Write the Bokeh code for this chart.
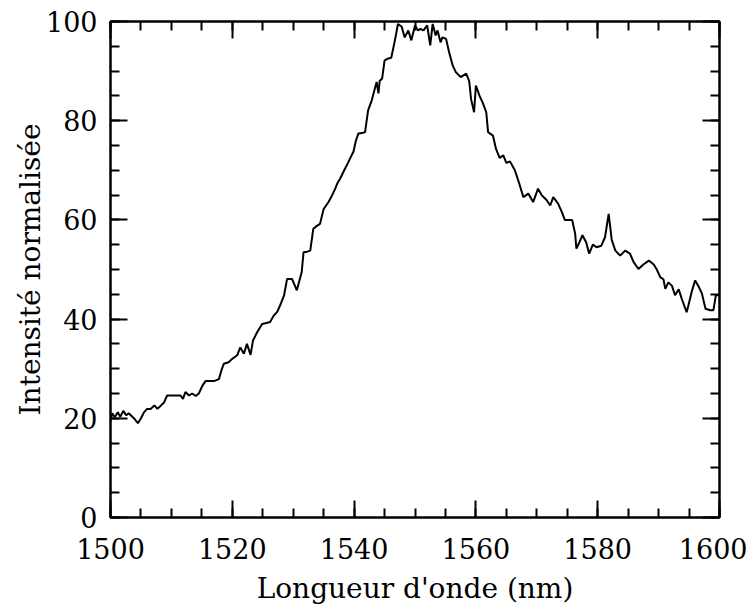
from bokeh.plotting import figure
from bokeh.models import Range1d, LinearAxis, SingleIntervalTicker, CustomJSTickFormatter
from bokeh.embed import file_html
from bokeh.resources import INLINE

wavelength_nm = [
    1500.0, 1500.3, 1500.7, 1501.2, 1501.6, 1502.1, 1502.6, 1503.0, 1503.5, 1504.0,
    1504.5, 1505.0, 1505.5, 1506.0, 1506.6, 1507.2, 1507.7, 1508.3, 1508.8, 1509.3,
    1510.0, 1510.8, 1511.5, 1511.9, 1512.3, 1512.9, 1513.4, 1514.0, 1514.5, 1515.1,
    1515.6, 1516.3, 1517.0, 1517.8, 1518.2, 1518.6, 1519.4, 1520.0, 1520.8, 1521.3,
    1521.9, 1522.4, 1523.0, 1523.4, 1524.1, 1524.9, 1525.6, 1526.2, 1526.8, 1527.4,
    1528.0, 1528.5, 1529.0, 1529.8, 1530.6, 1531.4, 1531.7, 1532.3, 1532.8, 1533.3,
    1533.9, 1534.4, 1535.0, 1535.8, 1536.4, 1536.9, 1537.3, 1537.7, 1538.1, 1538.5,
    1539.0, 1539.3, 1539.9, 1540.3, 1540.7, 1541.3, 1541.8, 1542.3, 1542.9, 1543.3,
    1543.7, 1544.0, 1544.2, 1544.6, 1545.0, 1545.5, 1546.1, 1546.7, 1547.2, 1547.8,
    1548.3, 1548.9, 1549.4, 1550.0, 1550.5, 1550.9, 1551.4, 1552.0, 1552.5, 1552.9,
    1553.4, 1553.7, 1554.2, 1554.5, 1555.1, 1555.6, 1556.2, 1556.7, 1557.5, 1558.4,
    1558.9, 1559.2, 1559.7, 1560.0, 1560.6, 1561.1, 1561.7, 1562.0, 1562.8, 1563.3,
    1563.9, 1564.5, 1565.0, 1565.6, 1566.4, 1567.2, 1567.8, 1568.6, 1569.4, 1570.2,
    1570.8, 1571.6, 1572.2, 1572.7, 1573.5, 1574.1, 1574.6, 1575.8, 1576.3, 1576.5,
    1577.0, 1577.5, 1578.1, 1578.6, 1579.2, 1579.8, 1580.6, 1581.2, 1581.8, 1582.3,
    1582.9, 1583.7, 1584.5, 1585.3, 1585.9, 1586.7, 1587.5, 1588.4, 1589.2, 1589.7,
    1590.3, 1590.8, 1591.1, 1591.6, 1592.2, 1592.7, 1593.3, 1593.8, 1594.6, 1594.9,
    1595.5, 1596.0, 1596.6, 1597.1, 1597.7, 1598.5, 1599.0, 1599.4, 1600.0,
]
intensity = [
    19.5, 21.0, 20.2, 21.2, 20.3, 21.5, 20.6, 21.0, 20.4, 19.8,
    19.0, 20.0, 21.2, 21.9, 21.9, 22.6, 21.9, 22.6, 23.2, 24.6,
    24.6, 24.6, 24.6, 23.9, 25.3, 24.6, 25.0, 24.5, 25.0, 26.6,
    27.5, 27.5, 27.5, 27.9, 29.6, 31.0, 31.3, 32.0, 32.7, 34.3,
    33.0, 35.0, 32.8, 35.7, 37.4, 39.0, 39.2, 39.4, 40.7, 41.5,
    43.2, 44.8, 48.1, 48.1, 45.8, 49.5, 53.5, 53.6, 53.8, 58.2,
    58.8, 59.2, 62.2, 63.6, 65.0, 66.3, 67.5, 68.3, 69.3, 70.3,
    71.5, 72.3, 73.8, 76.0, 77.4, 77.5, 77.7, 82.1, 84.1, 86.0,
    87.8, 85.5, 88.0, 88.5, 92.1, 92.5, 92.7, 96.2, 99.5, 99.0,
    96.8, 98.2, 96.2, 99.2, 98.2, 98.5, 98.2, 99.2, 95.2, 99.5,
    97.2, 98.2, 95.8, 96.8, 96.5, 93.8, 91.1, 89.8, 88.8, 89.5,
    88.0, 84.4, 81.7, 87.1, 85.0, 83.7, 81.7, 77.7, 77.0, 74.3,
    72.5, 73.0, 71.5, 71.8, 70.0, 67.0, 64.6, 65.3, 63.6, 66.3,
    65.0, 64.0, 62.9, 64.6, 63.3, 61.6, 60.0, 60.0, 57.2, 54.2,
    55.5, 56.9, 55.5, 53.2, 55.0, 54.5, 54.8, 56.5, 61.2, 56.0,
    53.8, 52.8, 53.8, 53.2, 51.5, 50.1, 51.0, 51.8, 51.0, 50.0,
    48.4, 48.0, 46.1, 47.4, 46.7, 44.8, 46.0, 44.1, 41.4, 42.8,
    45.8, 47.8, 46.5, 45.2, 42.1, 41.8, 41.8, 44.8, 44.8,
]

x_label = "Longueur d'onde (nm)"
y_label = "Intensité normalisée"

FONT = "DejaVu Serif"

p = figure(
    frame_width=609, frame_height=496,
    min_border_left=110, min_border_right=28, min_border_top=21, min_border_bottom=84,
    x_range=Range1d(1500, 1600), y_range=Range1d(0, 100),
    output_backend="svg", toolbar_location=None,
    background_fill_color="white", border_fill_color="white",
)
p.grid.visible = False
p.outline_line_color = "black"
p.outline_line_width = 2

p.line(wavelength_nm, intensity, line_color="black", line_width=2)

xt = SingleIntervalTicker(interval=20, num_minor_ticks=4)
yt = SingleIntervalTicker(interval=20, num_minor_ticks=4)


def style(ax, labels=True):
    ax.axis_line_color = "black"
    ax.axis_line_width = 2
    ax.major_tick_line_color = "black"
    ax.major_tick_line_width = 2
    ax.minor_tick_line_color = "black"
    ax.minor_tick_line_width = 2
    ax.major_tick_in = 17
    ax.major_tick_out = 0
    ax.minor_tick_in = 9
    ax.minor_tick_out = 0
    if labels:
        ax.major_label_text_font = FONT
        ax.major_label_text_font_size = "27px"
        ax.major_label_text_color = "black"
        ax.axis_label_text_font = FONT
        ax.axis_label_text_font_size = "28px"
        ax.axis_label_text_font_style = "normal"
        ax.axis_label_text_color = "black"
    else:
        ax.major_label_text_font_size = "0px"
        ax.formatter = CustomJSTickFormatter(code="return ''")


xa = p.xaxis[0]
xa.ticker = xt
xa.axis_label = x_label
style(xa)
xa.major_label_standoff = 20
xa.axis_label_standoff = 10

ya = p.yaxis[0]
ya.ticker = yt
ya.axis_label = y_label
style(ya)
ya.major_label_standoff = 13
ya.axis_label_standoff = -4

top = LinearAxis(ticker=SingleIntervalTicker(interval=20, num_minor_ticks=4))
style(top, labels=False)
p.add_layout(top, "above")

right = LinearAxis(ticker=SingleIntervalTicker(interval=20, num_minor_ticks=4))
style(right, labels=False)
p.add_layout(right, "right")

open("out.html", "w").write(file_html(p, INLINE))
